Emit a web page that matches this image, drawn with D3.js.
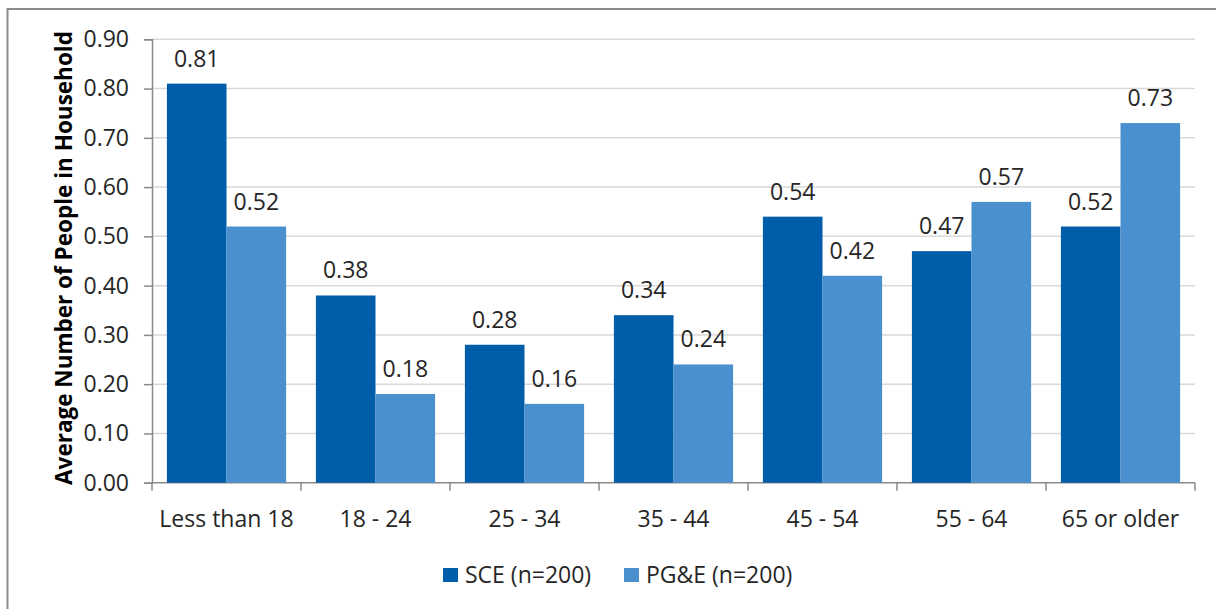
<!DOCTYPE html>
<html>
<head>
<meta charset="utf-8">
<script src="https://cdn.jsdelivr.net/npm/d3@7"></script>
<style>
  html, body { margin: 0; padding: 0; background: #fff; }
  svg { display: block; }
  text { font-family: "Open Sans", "Noto Sans", sans-serif; fill: #262626; }
</style>
</head>
<body>
<svg id="chart" width="1216" height="609"></svg>
<script>
// Age groups and average household members per group, by utility
const categories = ["Less than 18", "18 - 24", "25 - 34", "35 - 44", "45 - 54", "55 - 64", "65 or older"];
const seriesNames = ["SCE (n=200)", "PG&E (n=200)"];
const sceValues = [0.81, 0.38, 0.28, 0.34, 0.54, 0.47, 0.52];
const pgeValues = [0.52, 0.18, 0.16, 0.24, 0.42, 0.57, 0.73];
const yTicks = [0, 0.1, 0.2, 0.3, 0.4, 0.5, 0.6, 0.7, 0.8, 0.9];
const colors = ["#005DAA", "#4A90CE"];

const svg = d3.select("#chart");
const margin = { left: 152, right: 21, top: 39.3, bottom: 126.3 };
const W = 1216, H = 609;
const plotW = W - margin.left - margin.right;
const plotH = H - margin.top - margin.bottom;
const fs = 23;

// outer chart frame (left and top edges visible)
svg.append("rect")
  .attr("x", 7.5).attr("y", 9)
  .attr("width", 1250).attr("height", 700)
  .attr("fill", "none").attr("stroke", "#8a8a8a").attr("stroke-width", 2);

const g = svg.append("g").attr("transform", `translate(${margin.left},${margin.top})`);

const x0 = d3.scaleBand().domain(categories).range([0, plotW]).paddingInner(0.2).paddingOuter(0.1);
const x1 = d3.scaleBand().domain(seriesNames).range([0, x0.bandwidth()]);
const y = d3.scaleLinear().domain([0, 0.9]).range([plotH, 0]);
const step = plotW / categories.length;

// horizontal gridlines
g.append("g").selectAll("line").data(yTicks.slice(1)).join("line")
  .attr("x1", 0).attr("x2", plotW)
  .attr("y1", d => y(d)).attr("y2", d => y(d))
  .attr("stroke", "#d9d9d9").attr("stroke-width", 1.5);

// y axis
const yAxis = g.append("g")
  .call(d3.axisLeft(y).tickValues(yTicks).tickFormat(d3.format(".2f")).tickSize(8).tickPadding(15));
yAxis.select(".domain").attr("stroke", "#8a8a8a").attr("stroke-width", 1.5);
yAxis.selectAll(".tick line").attr("stroke", "#8a8a8a").attr("stroke-width", 1.5);
yAxis.selectAll(".tick text")
  .attr("font-size", fs).attr("font-family", "'Open Sans', sans-serif").attr("fill", "#262626");

// x axis baseline and category separator ticks
const xg = g.append("g").attr("transform", `translate(0,${plotH})`);
xg.append("line").attr("x1", 0).attr("x2", plotW).attr("y1", 0).attr("y2", 0)
  .attr("stroke", "#8a8a8a").attr("stroke-width", 1.5);
xg.selectAll("line.sep").data(d3.range(categories.length + 1)).join("line")
  .attr("class", "sep")
  .attr("x1", i => i * step).attr("x2", i => i * step)
  .attr("y1", 0).attr("y2", 8)
  .attr("stroke", "#8a8a8a").attr("stroke-width", 1.5);
xg.selectAll("text").data(categories).join("text")
  .attr("x", d => x0(d) + x0.bandwidth() / 2)
  .attr("y", 44)
  .attr("text-anchor", "middle")
  .attr("font-size", fs)
  .text(d => d);

// bars
const rows = categories.map((c, i) => ({ cat: c, vals: [sceValues[i], pgeValues[i]] }));
const groups = g.selectAll("g.cat").data(rows).join("g")
  .attr("class", "cat")
  .attr("transform", d => `translate(${x0(d.cat)},0)`);

groups.selectAll("rect").data(d => d.vals.map((v, k) => ({ k, v }))).join("rect")
  .attr("x", d => x1(seriesNames[d.k]))
  .attr("y", d => y(d.v))
  .attr("width", x1.bandwidth())
  .attr("height", d => plotH - y(d.v))
  .attr("fill", d => colors[d.k]);

groups.selectAll("text.val").data(d => d.vals.map((v, k) => ({ k, v }))).join("text")
  .attr("class", "val")
  .attr("x", d => x1(seriesNames[d.k]) + x1.bandwidth() / 2)
  .attr("y", d => y(d.v) - 17)
  .attr("text-anchor", "middle")
  .attr("font-size", fs)
  .text(d => d.v.toFixed(2));

// y axis title
svg.append("text")
  .attr("transform", `translate(72,258) rotate(-90)`)
  .attr("text-anchor", "middle")
  .attr("font-size", 22.5)
  .attr("font-weight", "bold")
  .style("fill", "#000")
  .text("Average Number of People in Household");

// legend
const legend = svg.append("g").attr("transform", "translate(443,568)");
const legendX = [0, 181];
seriesNames.forEach((name, k) => {
  const item = legend.append("g").attr("transform", `translate(${legendX[k]},0)`);
  item.append("rect").attr("width", 15).attr("height", 14).attr("fill", colors[k]);
  item.append("text").attr("x", 22).attr("y", 15).attr("font-size", fs).text(name);
});
</script>
</body>
</html>
